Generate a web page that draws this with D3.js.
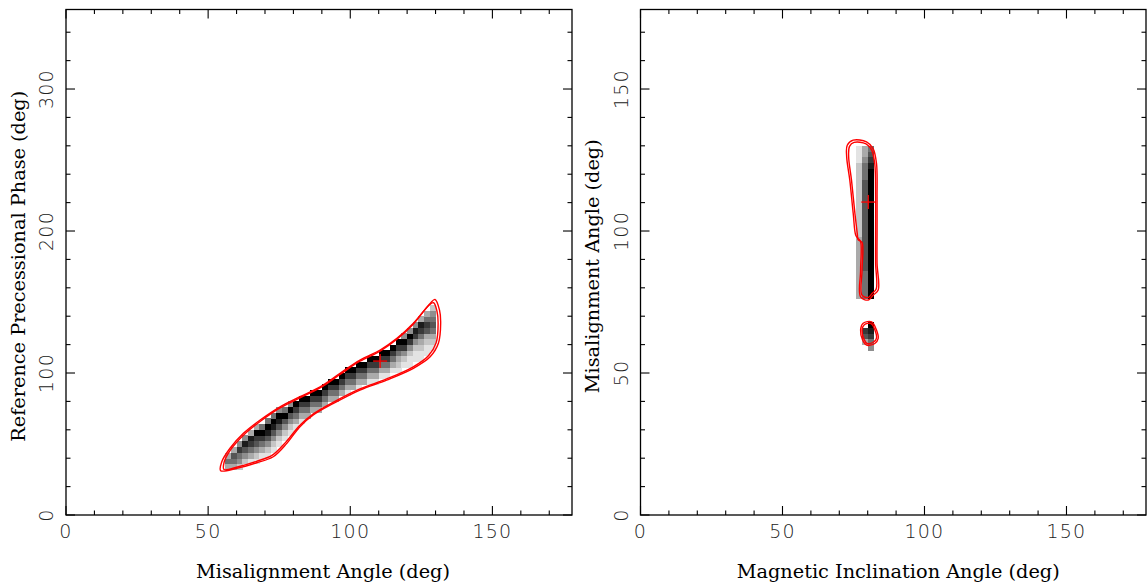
<!DOCTYPE html>
<html><head><meta charset="utf-8">
<script src="https://cdn.jsdelivr.net/npm/d3@7"></script>
<style>body{margin:0;background:#fff}svg{display:block}</style>
</head><body>
<script>
// ---------- data ----------
const leftXLabel = "Misalignment Angle (deg)";
const leftYLabel = "Reference Precessional Phase (deg)";
const rightXLabel = "Magnetic Inclination Angle (deg)";
const rightYLabel = "Misalignment Angle (deg)";
const leftXTicks = [0, 50, 100, 150];
const leftYTicks = [0, 100, 200, 300];
const rightXTicks = [0, 50, 100, 150];
const rightYTicks = [0, 50, 100, 150];

// posterior density cells: column x (deg), first cell y (deg), grey levels bottom->top (0 = blank, 9 = black)
const leftCells = [
  {x: 56, y0: 32, v: "353"},
  {x: 58, y0: 32, v: "3563"},
  {x: 60, y0: 32, v: "24574"},
  {x: 62, y0: 36, v: "24684"},
  {x: 64, y0: 36, v: "135783"},
  {x: 66, y0: 36, v: "1246793"},
  {x: 68, y0: 40, v: "135795"},
  {x: 70, y0: 40, v: "1246895"},
  {x: 72, y0: 44, v: "1246895"},
  {x: 74, y0: 48, v: "1246894"},
  {x: 76, y0: 52, v: "124695"},
  {x: 78, y0: 56, v: "124694"},
  {x: 80, y0: 60, v: "13579"},
  {x: 82, y0: 64, v: "13579"},
  {x: 84, y0: 68, v: "3579"},
  {x: 86, y0: 72, v: "3579"},
  {x: 88, y0: 72, v: "3579"},
  {x: 90, y0: 76, v: "3579"},
  {x: 92, y0: 80, v: "3579"},
  {x: 94, y0: 80, v: "3579"},
  {x: 96, y0: 84, v: "3579"},
  {x: 98, y0: 84, v: "13579"},
  {x: 100, y0: 88, v: "3579"},
  {x: 102, y0: 88, v: "13579"},
  {x: 104, y0: 92, v: "3579"},
  {x: 106, y0: 92, v: "13579"},
  {x: 108, y0: 92, v: "13579"},
  {x: 110, y0: 96, v: "13579"},
  {x: 112, y0: 96, v: "13579"},
  {x: 114, y0: 100, v: "13579"},
  {x: 116, y0: 100, v: "123579"},
  {x: 118, y0: 104, v: "124794"},
  {x: 120, y0: 104, v: "1124794"},
  {x: 122, y0: 108, v: "1124784"},
  {x: 124, y0: 108, v: "11235783"},
  {x: 126, y0: 112, v: "11236753"},
  {x: 128, y0: 116, v: "12356542"}
];
const rightCells = [
  {x: 76, y0: 76, v: "333333333332222222222222111"},
  {x: 78, y0: 76, v: "555556666666666666666555433"},
  {x: 80, y0: 76, v: "999999999999999999999998765"},
  {x: 78, y0: 60, v: "367"},
  {x: 80, y0: 58, v: "45789"}
];

const leftContourOuter = [[54.4,31.2],[60.1,32.9],[67.1,36.8],[72.9,41.0],[77.7,50.5],[82.3,62.2],[87.0,70.4],[94.1,78.6],[103.4,88.0],[112.8,95.0],[122.2,103.3],[128.1,111.4],[131.0,120.9],[131.8,135.0],[131.4,144.3],[129.8,151.8],[128.1,149.0],[122.2,135.0],[116.4,124.4],[110.5,116.2],[103.4,109.1],[96.4,99.8],[89.4,90.3],[82.3,83.3],[75.3,76.2],[68.3,66.9],[62.4,57.5],[57.7,47.0],[54.8,37.5]];
const leftContourInner = [[55.6,32.0],[60.3,33.8],[67.0,37.8],[72.6,42.2],[77.4,51.5],[82.2,63.0],[87.0,71.2],[94.1,79.5],[103.4,88.8],[112.8,95.8],[122.0,104.2],[127.5,112.2],[130.2,121.2],[130.9,135.0],[130.5,143.5],[129.3,149.5],[127.6,147.6],[122.0,134.0],[116.3,123.6],[110.5,115.4],[103.4,108.3],[96.4,99.0],[89.4,89.5],[82.3,82.5],[75.3,75.4],[68.4,66.0],[62.6,56.6],[58.0,46.2],[55.6,37.0]];
const rightContourOuter = [[72.8,130.2],[74.9,132.0],[79.6,131.4],[81.9,129.0],[83.1,123.8],[83.3,112.0],[83.3,100.3],[83.3,88.6],[83.7,79.2],[81.9,77.4],[80.2,75.7],[77.5,76.8],[77.5,86.2],[77.5,96.2],[76.6,97.4],[75.8,98.5],[74.9,106.2],[73.7,117.9],[72.6,126.1]];
const rightContourInner = [[73.6,129.8],[75.2,131.2],[79.4,130.7],[81.4,128.5],[82.5,123.5],[82.8,112.0],[82.8,100.3],[82.8,88.6],[83.0,79.6],[81.5,78.0],[80.2,76.6],[78.0,77.4],[78.0,86.2],[78.0,96.0],[76.6,97.0],[76.4,98.5],[75.5,106.2],[74.3,117.9],[73.3,126.1]];
const rightBlobOuter = [[77.5,65.1],[78.4,67.5],[81.4,68.0],[83.1,65.1],[83.7,62.2],[82.5,60.4],[79.6,59.8],[78.2,61.6]];
const rightBlobInner = [[78.0,65.0],[78.8,67.0],[81.2,67.4],[82.6,65.0],[83.1,62.3],[82.2,61.0],[79.8,60.4],[78.7,61.9]];
const leftBest = [110.5, 108.4];
const rightBest = [80.2, 110.2];

// ---------- drawing ----------
const W = 1148, H = 585;
const svg = d3.select("body").append("svg").attr("width", W).attr("height", H);
const grey = d3.scaleLinear().domain([0, 9]).range(["#ffffff", "#000000"]);

function panel(o) {
  const x = d3.scaleLinear().domain([0, 178]).range([o.left, o.right]);
  const y = d3.scaleLinear().domain([0, o.ymax]).range([515, 9.5]);
  const g = svg.append("g");

  const cg = g.append("g").attr("shape-rendering", "crispEdges");
  o.cells.forEach(c => {
    c.v.split("").forEach((ch, i) => {
      const lv = +ch;
      if (!lv) return;
      const yb = c.y0 + i * o.ch, yt = yb + o.ch;
      cg.append("rect")
        .attr("x", x(c.x)).attr("y", y(yt))
        .attr("width", x(c.x + 2) - x(c.x) + 0.3)
        .attr("height", y(yb) - y(yt) + 0.3)
        .attr("fill", grey(lv));
    });
  });

  const line = d3.line().x(d => x(d[0])).y(d => y(d[1])).curve(d3.curveCatmullRomClosed.alpha(0.5));
  o.contours.forEach(c => {
    g.append("path").attr("d", line(c)).attr("fill", "none")
      .attr("stroke", "#ff0000").attr("stroke-width", 1.4);
  });
  const bx = x(o.best[0]), by = y(o.best[1]);
  g.append("line").attr("x1", bx - 7).attr("x2", bx + 7).attr("y1", by).attr("y2", by).attr("stroke", "#ff0000").attr("stroke-width", 1.3);
  g.append("line").attr("x1", bx).attr("x2", bx).attr("y1", by - 7).attr("y2", by + 7).attr("stroke", "#ff0000").attr("stroke-width", 1.3);

  g.append("rect").attr("x", o.left).attr("y", 9.5).attr("width", o.right - o.left).attr("height", 515 - 9.5)
    .attr("fill", "none").attr("stroke", "#000").attr("stroke-width", 1.3);

  const tk = g.append("g").attr("stroke", "#000").attr("stroke-width", 1.1);
  for (let v = 0; v < 178; v += 10) {
    const L = v % 50 === 0 ? 9 : 4.5;
    tk.append("line").attr("x1", x(v)).attr("x2", x(v)).attr("y1", 515).attr("y2", 515 - L);
    tk.append("line").attr("x1", x(v)).attr("x2", x(v)).attr("y1", 9.5).attr("y2", 9.5 + L);
  }
  for (let v = 0; v < o.ymax; v += o.yminor) {
    const L = v % o.ymajor === 0 ? 9 : 4.5;
    tk.append("line").attr("y1", y(v)).attr("y2", y(v)).attr("x1", o.left).attr("x2", o.left + L);
    tk.append("line").attr("y1", y(v)).attr("y2", y(v)).attr("x1", o.right).attr("x2", o.right - L);
  }

  const lab = g.append("g").attr("font-family", "'DejaVu Sans', sans-serif").attr("font-weight", 200)
    .attr("font-size", 19).attr("letter-spacing", 1.2).attr("fill", "#222");
  o.xticks.forEach(v => {
    lab.append("text").attr("x", x(v)).attr("y", 531).attr("text-anchor", "middle")
      .attr("dominant-baseline", "central").text(v);
  });
  o.yticks.forEach(v => {
    lab.append("text").attr("transform", `translate(${o.left - 20},${y(v)}) rotate(-90)`)
      .attr("text-anchor", "middle").attr("dominant-baseline", "central").text(v);
  });

  const tf = g.append("g").attr("font-family", "'DejaVu Serif', serif").attr("font-size", 19.3).attr("fill", "#000");
  tf.append("text").attr("x", (o.left + o.right) / 2 + o.xlabDx).attr("y", 571).attr("text-anchor", "middle")
    .attr("dominant-baseline", "central").text(o.xlabel);
  tf.append("text").attr("transform", `translate(${o.left - 48},${(515 + 9.5) / 2 + 4}) rotate(-90)`)
    .attr("text-anchor", "middle").attr("dominant-baseline", "central").text(o.ylabel);
}

panel({left: 66, right: 572, ymax: 356, ch: 4, yminor: 20, ymajor: 100, xlabDx: 4,
  cells: leftCells, contours: [leftContourOuter, leftContourInner], best: leftBest,
  xticks: leftXTicks, yticks: leftYTicks, xlabel: leftXLabel, ylabel: leftYLabel});
panel({left: 640.5, right: 1146, ymax: 178, ch: 2, yminor: 10, ymajor: 50, xlabDx: 5,
  cells: rightCells, contours: [rightContourOuter, rightContourInner, rightBlobOuter, rightBlobInner], best: rightBest,
  xticks: rightXTicks, yticks: rightYTicks, xlabel: rightXLabel, ylabel: rightYLabel});
</script>
</body></html>
